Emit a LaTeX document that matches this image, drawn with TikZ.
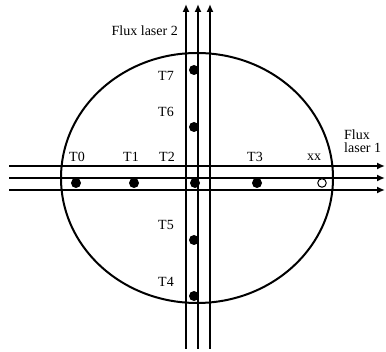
\documentclass[tikz,border=0pt]{standalone}
\usepackage{fontspec}
\setmainfont{Liberation Serif}
\usetikzlibrary{positioning, arrows.meta}

\begin{document}
\begin{tikzpicture}[
  x=1pt, y=-1pt,
  font=\rmfamily\fontsize{14}{13.5}\selectfont,
  beam/.style={-{Latex[length=8pt, width=7pt]}, line width=2pt},
  probe/.style={circle, fill, inner sep=0pt, minimum size=10pt},
  freeprobe/.style={circle, draw, fill=white, line width=1pt, inner sep=0pt, minimum size=8.5pt},
  tag/.style={inner sep=1pt}
]
  \useasboundingbox (0,0) rectangle (386,352);
  \draw[line width=2pt] (197,178) ellipse [x radius=136, y radius=125];
  % laser 1 (horizontal)
  \foreach \n/\y in {a/166, b/178, c/190} {
    \coordinate (h\n s) at (9,\y);
    \coordinate (h\n e) at (385,\y);
    \draw[beam] (h\n s) -- (h\n e);
  }
  % laser 2 (vertical)
  \foreach \n/\x in {a/186, b/198, c/210} {
    \coordinate (v\n s) at (\x,349);
    \coordinate (v\n e) at (\x,4);
    \draw[beam] (v\n s) -- (v\n e);
  }
  % probes
  \node[probe] (t0) at (76,183) {};
  \node[probe] (t1) at (134,183) {};
  \node[probe] (t2) at (195,183) {};
  \node[probe] (t3) at (257,183) {};
  \node[freeprobe] (xx) at (322,183) {};
  \node[probe] (t7) at (194,70) {};
  \node[probe] (t6) at (194,127) {};
  \node[probe] (t5) at (194,240) {};
  \node[probe] (t4) at (194,296) {};
  % labels
  \node[tag] at (77,157) {T0};
  \node[tag] at (131,157) {T1};
  \node[tag] at (167,157) {T2};
  \node[tag] at (255,157) {T3};
  \node[tag] at (314,157) {xx};
  \node[tag] at (166,76) {T7};
  \node[tag] at (166,112) {T6};
  \node[tag] at (166,225) {T5};
  \node[tag] at (166,282) {T4};
  \node[tag, anchor=east] (fl2) at (179,31) {Flux laser 2};
  \node[tag, anchor=west, align=left] (fl1) at (343,141) {Flux\\laser 1};
\end{tikzpicture}
\end{document}
